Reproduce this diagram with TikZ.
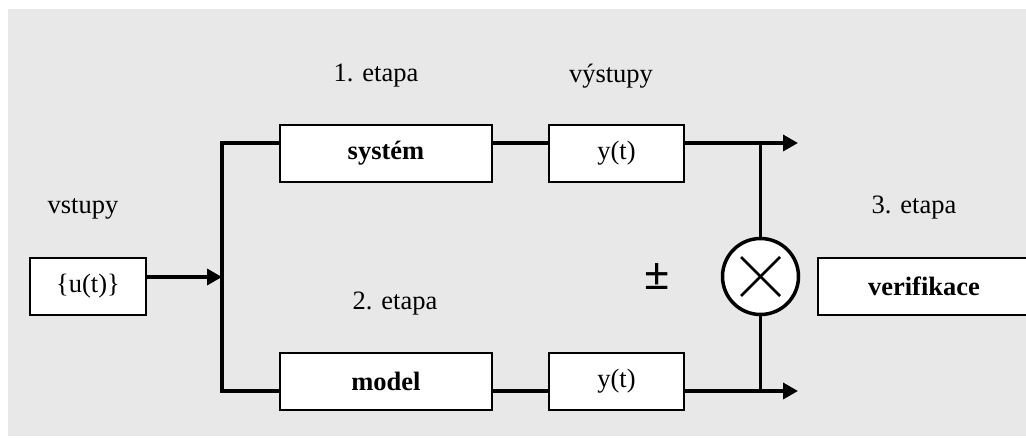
\documentclass[tikz,border=0pt]{standalone}
\usepackage{fontspec}
\setmainfont{Liberation Serif}
\usetikzlibrary{arrows.meta,shapes.geometric,calc}

\tikzset{
  block/.style={draw=black, line width=2pt, fill=white, rectangle,
    minimum height=57pt, inner sep=0pt, font=\fontsize{26.5}{31}\selectfont},
  wire/.style={line width=3.5pt, line cap=butt},
  label/.style={inner sep=0pt, font=\fontsize{26.5}{31}\selectfont},
  tip/.style={-{Triangle[length=15pt,width=16pt]}}
}

\begin{document}
\begin{tikzpicture}[x=1pt,y=-1pt]
  \useasboundingbox (0,0) rectangle (1026,439);
  \fill[fill={rgb,255:red,232;green,232;blue,232}] (8,9) rectangle (1026,436);

  % signal levels and junction columns
  \coordinate (top) at (0,143);
  \coordinate (bot) at (0,391);
  \coordinate (mid) at (0,277);
  \coordinate (split) at (222,0);
  \coordinate (tap) at (760.5,0);
  \coordinate (out) at (798,0);

  % blocks
  \node[block, minimum width=116pt] (u) at (88,286.5) {\{u(t)\}};
  \node[block, minimum width=212pt] (sys) at (386,153) {\textbf{systém}};
  \node[block, minimum width=135pt] (yt1) at (616.5,153) {y(t)};
  \node[block, minimum width=212pt] (mod) at (386,381.5) {\textbf{model}};
  \node[block, minimum width=135pt] (yt2) at (616.5,381.5) {y(t)};
  \node[block, minimum width=212pt] (ver) at (924,286.5) {\textbf{verifikace}};
  \node[circle, draw=black, line width=3.5pt, fill=white, minimum size=76pt,
        inner sep=0pt] (mul) at (760.5,276.5) {};
  \draw[line width=2.5pt] ($(mul.center)+(-19.5,-19.5)$) -- ($(mul.center)+(19.5,19.5)$);
  \draw[line width=2.5pt] ($(mul.center)+(-19.5,19.5)$) -- ($(mul.center)+(19.5,-19.5)$);

  % labels
  \node[label] (l1) at (376,76) {1. etapa};
  \node[label] (l2) at (611,76) {výstupy};
  \node[label] (l3) at (83,209) {vstupy};
  \node[label] (l4) at (395,304) {2. etapa};
  \node[label] (l5) at (914,208) {3. etapa};
  \node[inner sep=0pt, font=\fontsize{46}{46}\selectfont\bfseries] (pm) at (657,277) {±};

  % connectors
  \draw[wire,tip] (u.east |- mid) -- (split |- mid);
  \draw[wire] (sys.west |- top) -| (split |- bot) -- (mod.west |- bot);
  \draw[wire] (sys.east |- top) -- (yt1.west |- top);
  \draw[wire] (mod.east |- bot) -- (yt2.west |- bot);
  \draw[wire,tip] (yt1.east |- top) -- (out |- top);
  \draw[wire,tip] (yt2.east |- bot) -- (out |- bot);
  \draw[wire] (tap |- top) -- (mul.north);
  \draw[wire] (mul.south) -- (tap |- bot);
\end{tikzpicture}
\end{document}
